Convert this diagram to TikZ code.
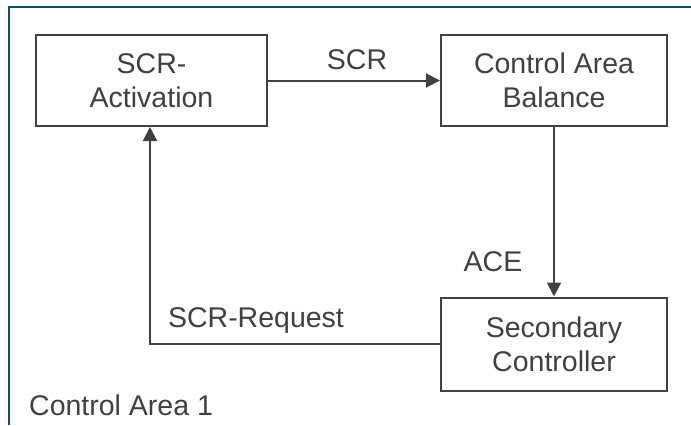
\documentclass[tikz,border=0pt]{standalone}
\usepackage{fontspec}
\setmainfont{Liberation Sans}
\usetikzlibrary{arrows.meta}
\definecolor{ink}{RGB}{64,64,64}
\definecolor{frame}{RGB}{14,79,90}
\begin{document}
\begin{tikzpicture}[x=1bp,y=-1bp,
  every node/.style={text=ink,font=\fontsize{28.5bp}{34bp}\selectfont},
  block/.style={draw=ink,line width=2bp,align=center,inner sep=0pt},
  link/.style={draw=ink,line width=2bp,-{Triangle[length=14bp,width=14bp]}},
  lbl/.style={inner sep=0pt}]
\useasboundingbox (0,0) rectangle (691,425);
% area outline (open at the bottom and right)
\draw[frame,line width=2.2bp] (9,425) -- (9,7) -- (691,7);
% blocks
\node[block,minimum width=231bp,minimum height=91bp] (act) at (151.5,80.5) {SCR-\\Activation};
\node[block,minimum width=226bp,minimum height=91bp] (bal) at (554,80.5) {Control Area\\Balance};
\node[block,minimum width=226bp,minimum height=93bp] (ctl) at (554,344) {Secondary\\Controller};
% signal flow
\draw[link] (act) -- (bal);
\draw[link] (bal) -- (ctl);
\draw[link] (ctl.west) -| (act.south -| 150,0);
% labels
\node[lbl] (scr) at (357,60) {SCR};
\node[lbl] (ace) at (493,262) {ACE};
\node[lbl] (req) at (256,320) {SCR-Request};
\node[lbl,anchor=west] (area) at (29,405) {Control Area 1};
\end{tikzpicture}
\end{document}
